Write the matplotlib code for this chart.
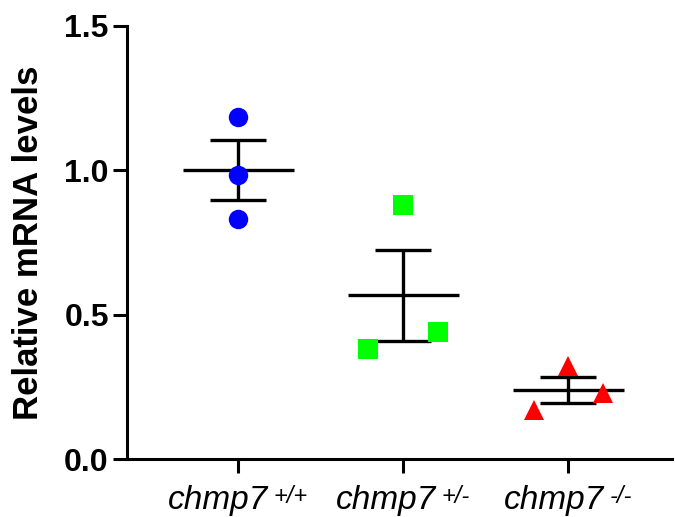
import numpy as np
import matplotlib
matplotlib.use('Agg')
import matplotlib.pyplot as plt
from matplotlib.offsetbox import TextArea, HPacker, AnnotationBbox

plt.rcParams['font.family'] = ['Liberation Sans', 'DejaVu Sans']

genotypes = ['+/+', '+/-', '-/-']
wt = [1.186, 0.984, 0.831]
het = [0.382, 0.880, 0.439]
ko = [0.170, 0.322, 0.228]
offsets = [-0.21, 0.0, 0.21]

groups = [wt, het, ko]
colors = ['#0000ff', '#00ff00', '#ff0000']
markers = ['o', 's', '^']

fig = plt.figure(figsize=(6.75, 5.17), dpi=100)
ax = fig.add_axes([0.188, 0.112, 0.808, 0.838])

for i, vals in enumerate(groups):
    vals = np.array(vals)
    xs = [i + o for o in offsets] if i > 0 else [i] * len(vals)
    ax.plot(xs, vals, linestyle='none', marker=markers[i], color=colors[i],
            markersize=14 if markers[i] != '^' else 15, markeredgewidth=0, zorder=3)
    m = vals.mean()
    sem = vals.std(ddof=1) / np.sqrt(len(vals))
    ax.plot([i - 0.336, i + 0.336], [m, m], color='black', lw=2.4, zorder=2,
            solid_capstyle='butt')
    ax.plot([i, i], [m - sem, m + sem], color='black', lw=2.4, zorder=2,
            solid_capstyle='butt')
    for y in (m - sem, m + sem):
        ax.plot([i - 0.17, i + 0.17], [y, y], color='black', lw=2.4, zorder=2,
                solid_capstyle='butt')

ax.set_xlim(-0.673, 2.63)
ax.set_ylim(0, 1.5)
ax.set_yticks([0.0, 0.5, 1.0, 1.5])
ax.set_yticklabels(['0.0', '0.5', '1.0', '1.5'])
ax.set_xticks([0, 1, 2])
ax.set_xticklabels([])

for s in ['top', 'right']:
    ax.spines[s].set_visible(False)
for s in ['left', 'bottom']:
    ax.spines[s].set_linewidth(2.2)

ax.tick_params(axis='both', width=2.2, length=10, color='black')
ax.tick_params(axis='y', labelsize=23, pad=3)
for t in ax.get_yticklabels():
    t.set_fontweight('bold')

ax.set_ylabel('Relative mRNA levels', fontsize=25, fontweight='bold', labelpad=14)

for i, g in enumerate(genotypes):
    base = TextArea('chmp7', textprops=dict(fontsize=24, style='italic'))
    sup = TextArea(g, textprops=dict(fontsize=17, style='italic'))
    box = HPacker(children=[base, sup], align='top', pad=0, sep=4)
    ab = AnnotationBbox(box, (i, 0), xycoords=('data', 'axes fraction'),
                        xybox=(0, -19), boxcoords='offset points',
                        box_alignment=(0.5, 1.0), frameon=False)
    ax.add_artist(ab)

fig.savefig('out.png', dpi=100)
